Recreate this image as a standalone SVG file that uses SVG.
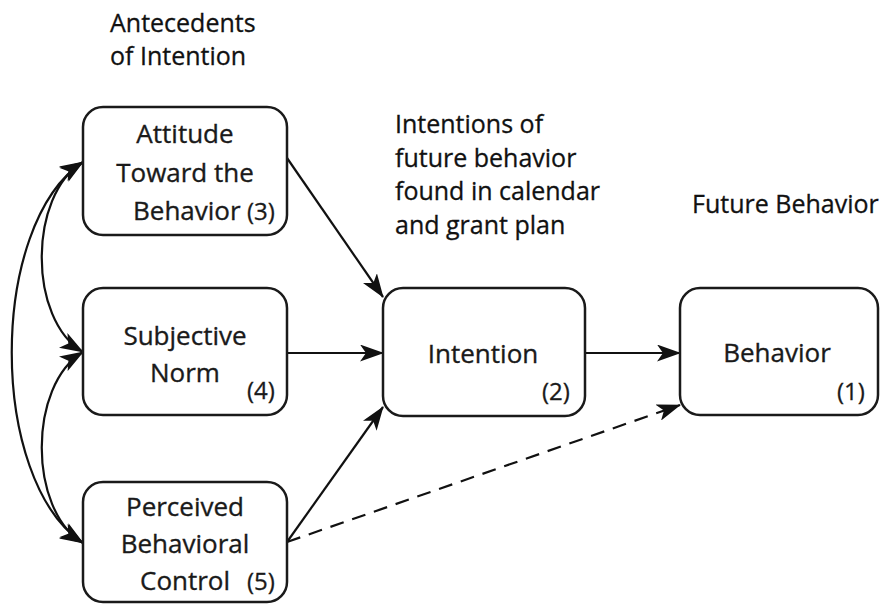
<svg xmlns="http://www.w3.org/2000/svg" width="881" height="604" viewBox="0 0 881 604">
<style>
.box{fill:#fff;stroke:#1a1a1a;stroke-width:2.5}
.t{font-family:"Open Sans","DejaVu Sans",sans-serif;font-size:26px;fill:#1a1a1a;stroke:#1a1a1a;stroke-width:0.35}
.n{font-family:"Open Sans","DejaVu Sans",sans-serif;font-size:24px;fill:#1a1a1a;stroke:#1a1a1a;stroke-width:0.3}
.lab{font-family:"Open Sans","DejaVu Sans",sans-serif;font-size:25px;fill:#111;stroke:#111;stroke-width:0.3}
.c{text-anchor:middle}
.ln{fill:none;stroke:#111;stroke-width:2.2}
.dash{stroke-dasharray:14 9}
</style>
<defs>
<marker id="ah" viewBox="0 0 24 17" refX="23" refY="8.5" markerWidth="24" markerHeight="17" markerUnits="userSpaceOnUse" orient="auto-start-reverse">
<path d="M0,0 L24,8.5 L0,17 L6,8.5 z" fill="#111"/>
</marker>
</defs>
<g id="labels">
<text class="lab" x="110" y="32">Antecedents</text>
<text class="lab" x="110" y="65">of Intention</text>
<text class="lab" x="395" y="133">Intentions of</text>
<text class="lab" x="395" y="167">future behavior</text>
<text class="lab" x="395" y="200">found in calendar</text>
<text class="lab" x="395" y="234">and grant plan</text>
<text class="lab" x="692" y="213">Future Behavior</text>
</g>
<g id="connectors">
<path class="ln" d="M83,162 C-12,225 -12,480 83,543" marker-start="url(#ah)" marker-end="url(#ah)"/>
<path class="ln" d="M83,162 C28,195 28,320 83,352" marker-start="url(#ah)" marker-end="url(#ah)"/>
<path class="ln" d="M83,352 C28,385 28,510 83,543" marker-start="url(#ah)" marker-end="url(#ah)"/>
<path class="ln" d="M287,158 L383,297" marker-end="url(#ah)"/>
<path class="ln" d="M287,353 L383,353" marker-end="url(#ah)"/>
<path class="ln" d="M287,542 L383,407" marker-end="url(#ah)"/>
<path class="ln" d="M585,353 L680,353" marker-end="url(#ah)"/>
<path class="ln dash" d="M287,542 L680,405" marker-end="url(#ah)"/>
</g>
<g id="attitude">
<rect class="box" x="83" y="107" width="204" height="128" rx="20"/>
<text class="t c" x="185" y="143">Attitude</text>
<text class="t c" x="185" y="182">Toward the</text>
<text class="t" x="133" y="220">Behavior</text>
<text class="n" x="247" y="220">(3)</text>
</g>
<g id="subjective">
<rect class="box" x="83" y="288" width="204" height="127" rx="20"/>
<text class="t c" x="185" y="345">Subjective</text>
<text class="t c" x="185" y="382">Norm</text>
<text class="n" x="247" y="399">(4)</text>
</g>
<g id="perceived">
<rect class="box" x="83" y="482" width="204" height="120" rx="20"/>
<text class="t c" x="185" y="516">Perceived</text>
<text class="t c" x="185" y="553">Behavioral</text>
<text class="t" x="140" y="590">Control</text>
<text class="n" x="247" y="590">(5)</text>
</g>
<g id="intention">
<rect class="box" x="383" y="288" width="202" height="128" rx="20"/>
<text class="t c" x="483" y="363">Intention</text>
<text class="n" x="542" y="400">(2)</text>
</g>
<g id="behavior">
<rect class="box" x="680" y="288" width="198" height="127" rx="20"/>
<text class="t c" x="777" y="362">Behavior</text>
<text class="n" x="837" y="400">(1)</text>
</g>
</svg>
